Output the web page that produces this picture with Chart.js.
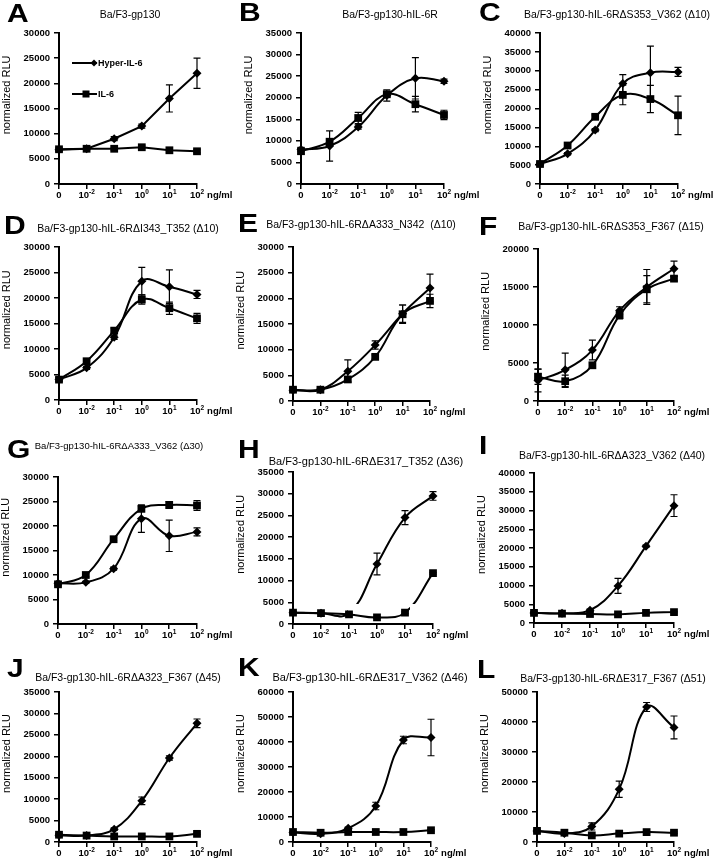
<!DOCTYPE html>
<html>
<head>
<meta charset="utf-8">
<script src="https://cdn.jsdelivr.net/npm/chart.js@4/dist/chart.umd.min.js"></script>
<style>
  html, body { margin: 0; padding: 0; background: #fff; }
  #fig { position: relative; width: 713px; height: 861px; overflow: hidden; }
  #fig canvas { position: absolute; }
</style>
</head>
<body>
<div id="fig"></div>
<script>
// x categories (ng/ml) and tick label pieces
const doseLabels = ['0', '10-2', '10-1', '100', '101', '102'];
const doseBase = ['0', '10', '10', '10', '10', '10'];
const doseExp = ['', '-2', '-1', '0', '1', '2'];
const seriesNames = ['Hyper-IL-6', 'IL-6'];

const letters = ['A', 'B', 'C', 'D', 'E', 'F', 'G', 'H', 'I', 'J', 'K', 'L'];
const titles = [
    'Ba/F3-gp130',
    'Ba/F3-gp130-hIL-6R',
    'Ba/F3-gp130-hIL-6R\u0394S353_V362 (\u039410)',
    'Ba/F3-gp130-hIL-6R\u0394I343_T352 (\u039410)',
    'Ba/F3-gp130-hIL-6R\u0394A333_N342  (\u039410)',
    'Ba/F3-gp130-hIL-6R\u0394S353_F367 (\u039415)',
    'Ba/F3-gp130-hIL-6R\u0394A333_V362 (\u039430)',
    'Ba/F3-gp130-hIL-6R\u0394E317_T352 (\u039436)',
    'Ba/F3-gp130-hIL-6R\u0394A323_V362 (\u039440)',
    'Ba/F3-gp130-hIL-6R\u0394A323_F367 (\u039445)',
    'Ba/F3-gp130-hIL-6R\u0394E317_V362 (\u039446)',
    'Ba/F3-gp130-hIL-6R\u0394E317_F367 (\u039451)'
];
const yMax = [30000, 35000, 40000, 30000, 30000, 20000, 30000, 35000, 40000, 35000, 60000, 50000];
const yStep = [5000, 5000, 5000, 5000, 5000, 5000, 5000, 5000, 5000, 5000, 10000, 10000];

// normalized RLU, mean and error, per panel
const hyperA = [6800, 7000, 9000, 11500, 17000, 22000];
const hyperErrA = [300, 200, 400, 400, 2700, 3000];
const il6A = [6900, 7000, 7000, 7300, 6700, 6500];
const il6ErrA = [300, 300, 300, 300, 300, 300];

const hyperB = [8000, 8800, 13200, 20500, 24500, 23800];
const hyperErrB = [500, 3500, 500, 1300, 4800, 500];
const il6B = [7600, 9800, 15300, 20800, 18500, 16000];
const il6ErrB = [600, 500, 1300, 600, 1800, 1100];

const hyperC = [5300, 8000, 14300, 26600, 29500, 29700];
const hyperErrC = [400, 300, 400, 2400, 7000, 1200];
const il6C = [5300, 10200, 17800, 23600, 22500, 18200];
const il6ErrC = [500, 400, 500, 2600, 3600, 5100];

const hyperD = [4000, 6300, 12300, 23300, 22200, 20700];
const hyperErrD = [300, 300, 400, 2700, 3300, 800];
const il6D = [4000, 7600, 13600, 19700, 18000, 16000];
const il6ErrD = [400, 400, 500, 900, 1200, 1000];

const hyperE = [2100, 2200, 5800, 10900, 17000, 22000];
const hyperErrE = [300, 200, 2200, 800, 1700, 2700];
const il6E = [2200, 2200, 4200, 8600, 16900, 19500];
const il6ErrE = [400, 200, 400, 400, 1800, 1300];

const hyperF = [2700, 4100, 6700, 11900, 15000, 17400];
const hyperErrF = [1500, 2200, 1300, 500, 2300, 1000];
const il6F = [3200, 2600, 4700, 11300, 14700, 16100];
const il6ErrF = [1000, 800, 300, 500, 1800, 300];

const hyperG = [8300, 8500, 11300, 21500, 18000, 18800];
const hyperErrG = [300, 200, 300, 2800, 3200, 800];
const il6G = [8100, 10000, 17300, 23500, 24300, 24200];
const il6ErrG = [300, 400, 300, 500, 700, 1000];

const hyperH = [2600, 2500, 2400, 13800, 24500, 29500];
const hyperErrH = [0, 0, 0, 2500, 1600, 1000];
const il6H = [2600, 2500, 2200, 1500, 2600, 11700];
const il6ErrH = [300, 200, 300, 200, 200, 200];

const hyperI = [2700, 2600, 3400, 9900, 20500, 31300];
const hyperErrI = [300, 200, 300, 2000, 300, 2900];
const il6I = [2700, 2500, 2400, 2300, 2700, 2900];
const il6ErrI = [200, 200, 200, 200, 200, 200];

const hyperJ = [1600, 1500, 3000, 9600, 19600, 27700];
const hyperErrJ = [300, 200, 300, 900, 500, 1000];
const il6J = [1700, 1500, 1300, 1300, 1300, 1900];
const il6ErrJ = [200, 200, 200, 200, 200, 200];

const hyperK = [3800, 3300, 5500, 14400, 40800, 41800];
const hyperErrK = [300, 300, 500, 1500, 1500, 7300];
const il6K = [4000, 3700, 4000, 4000, 4000, 4700];
const il6ErrK = [300, 300, 300, 300, 300, 300];

const hyperL = [3700, 2800, 5200, 17600, 45000, 38200];
const hyperErrL = [300, 300, 1200, 2700, 1500, 3800];
const il6L = [3700, 3100, 2200, 2800, 3300, 3100];
const il6ErrL = [300, 300, 300, 300, 300, 300];

const hyperAll = [hyperA, hyperB, hyperC, hyperD, hyperE, hyperF, hyperG, hyperH, hyperI, hyperJ, hyperK, hyperL];
const hyperErrAll = [hyperErrA, hyperErrB, hyperErrC, hyperErrD, hyperErrE, hyperErrF, hyperErrG, hyperErrH, hyperErrI, hyperErrJ, hyperErrK, hyperErrL];
const il6All = [il6A, il6B, il6C, il6D, il6E, il6F, il6G, il6H, il6I, il6J, il6K, il6L];
const il6ErrAll = [il6ErrA, il6ErrB, il6ErrC, il6ErrD, il6ErrE, il6ErrF, il6ErrG, il6ErrH, il6ErrI, il6ErrJ, il6ErrK, il6ErrL];

// page layout: plot box [left, top, right, bottom], title centre + size, letter left/middle
const boxes = [
    [59, 33, 197, 184], [301, 33, 444, 184], [540, 33, 678, 184],
    [59, 247, 197, 400], [293, 247, 430, 401], [538, 249, 674, 401],
    [58, 477, 197, 624], [293, 472, 433, 624], [534, 473, 674, 623],
    [59, 692, 197, 842], [293, 692, 431, 842], [537, 692, 674, 842]
];
const titlePos = [
    [130, 15], [390, 15], [617, 15],
    [128, 229], [361, 225], [611, 227],
    [119, 446], [366, 462], [612, 456],
    [128, 678], [370, 678], [613, 679]
];
const titleSize = [10.5, 10.5, 10.5, 10.5, 10.5, 10.5, 9.5, 11, 10.5, 10.5, 11, 10.5];
const letterPos = [
    [7, 14], [239, 13], [479, 13],
    [4, 226], [238, 224], [479, 227],
    [7, 450], [238, 450], [479, 446],
    [7, 669], [238, 668], [477, 670]
];

const FONT = "'Liberation Sans', Arial, Helvetica, sans-serif";
const PAD_L = 65, PAD_T = 40, PAD_R = 40, PAD_B = 25;

Chart.defaults.font.family = FONT;
Chart.defaults.color = '#000';

// H: parts of the fitted curves that are not drawn in the original
const hiddenParts = {
    7: [
        { ds: 0, from: 2, to: 3, dxFrom: -1, dxTo: -6, below: 4600 },
        { ds: 1, from: 4, to: 5, dxFrom: 5, dxTo: 2, below: 4600 }
    ]
};

function drawDiamond(ctx, x, y, r) {
    ctx.beginPath();
    ctx.moveTo(x, y - r);
    ctx.lineTo(x + r, y);
    ctx.lineTo(x, y + r);
    ctx.lineTo(x - r, y);
    ctx.closePath();
    ctx.fill();
}

function panelPlugin(i) {
    const [L, T] = boxes[i];
    const ox = L - PAD_L, oy = T - PAD_T;
    const masks = hiddenParts[i] || [];
    return {
        id: 'panel' + i,
        beforeDatasetDraw(chart, args) {
            const m = masks.filter(k => k.ds === args.index);
            if (!m.length) return;
            const ctx = chart.ctx, xs = chart.scales.x, ys = chart.scales.y;
            ctx.save();
            ctx.beginPath();
            ctx.rect(0, 0, chart.width, chart.height);
            m.forEach(k => {
                const x0 = xs.getPixelForValue(k.from) + k.dxFrom;
                const x1 = xs.getPixelForValue(k.to) + k.dxTo;
                const y0 = ys.getPixelForValue(k.below);
                ctx.rect(x0, y0, x1 - x0, chart.height - y0);
            });
            ctx.clip('evenodd');
        },
        afterDatasetDraw(chart, args) {
            if (masks.some(k => k.ds === args.index)) chart.ctx.restore();
        },
        afterDatasetsDraw(chart) {
            // error bars
            const ctx = chart.ctx, ys = chart.scales.y;
            ctx.save();
            ctx.strokeStyle = '#000';
            ctx.lineWidth = 1.2;
            chart.data.datasets.forEach((ds, d) => {
                const meta = chart.getDatasetMeta(d);
                ds.data.forEach((v, j) => {
                    const e = ds.err[j];
                    if (!e) return;
                    const x = meta.data[j].x;
                    const yt = ys.getPixelForValue(v + e);
                    const yb = ys.getPixelForValue(Math.max(v - e, 0));
                    ctx.beginPath();
                    ctx.moveTo(x, yt); ctx.lineTo(x, yb);
                    ctx.moveTo(x - 3.5, yt); ctx.lineTo(x + 3.5, yt);
                    ctx.moveTo(x - 3.5, yb); ctx.lineTo(x + 3.5, yb);
                    ctx.stroke();
                });
            });
            ctx.restore();
        },
        afterDraw(chart) {
            const ctx = chart.ctx, area = chart.chartArea, xs = chart.scales.x;
            ctx.save();
            ctx.fillStyle = '#000';

            // x tick labels with superscript exponents
            const base = 'bold 9.5px ' + FONT, small = 'bold 6.5px ' + FONT;
            const yb = area.bottom + 14;
            ctx.textAlign = 'left';
            ctx.textBaseline = 'alphabetic';
            let lastRight = 0;
            doseBase.forEach((b, j) => {
                const x = xs.getPixelForValue(j);
                ctx.font = base;
                const wb = ctx.measureText(b).width;
                ctx.font = small;
                const we = doseExp[j] ? ctx.measureText(doseExp[j]).width : 0;
                const x0 = x - (wb + we) / 2;
                ctx.font = base;
                ctx.fillText(b, x0, yb);
                if (doseExp[j]) {
                    ctx.font = small;
                    ctx.fillText(doseExp[j], x0 + wb, yb - 4.5);
                }
                lastRight = x0 + wb + we;
            });
            ctx.font = base;
            ctx.fillText('ng/ml', lastRight + 3, yb);

            // y axis title
            ctx.save();
            ctx.translate(area.left - 52, area.top + 0.41 * (area.bottom - area.top));
            ctx.rotate(-Math.PI / 2);
            ctx.textAlign = 'center';
            ctx.textBaseline = 'middle';
            ctx.font = '11px ' + FONT;
            ctx.fillText('normalized RLU', 0, 0);
            ctx.restore();

            // panel title and letter
            ctx.textAlign = 'center';
            ctx.textBaseline = 'middle';
            ctx.font = titleSize[i] + 'px ' + FONT;
            ctx.fillText(titles[i], titlePos[i][0] - ox, titlePos[i][1] - oy);

            ctx.save();
            ctx.translate(letterPos[i][0] - ox, letterPos[i][1] - oy);
            ctx.scale(1.2, 1);
            ctx.textAlign = 'left';
            ctx.font = 'bold 25px ' + FONT;
            ctx.fillText(letters[i], 0, 1);
            ctx.restore();

            // legend, first panel only
            if (i === 0) {
                ctx.strokeStyle = '#000';
                ctx.lineWidth = 2;
                ctx.font = 'bold 9px ' + FONT;
                ctx.textAlign = 'left';
                ctx.textBaseline = 'middle';
                const y1 = area.top + 30, y2 = area.top + 61;
                ctx.beginPath();
                ctx.moveTo(area.left + 13, y1); ctx.lineTo(area.left + 38, y1);
                ctx.moveTo(area.left + 13, y2); ctx.lineTo(area.left + 38, y2);
                ctx.stroke();
                drawDiamond(ctx, area.left + 35, y1, 3.5);
                ctx.fillRect(area.left + 23.5, y2 - 3.5, 7, 7);
                ctx.fillText(seriesNames[0], area.left + 39, y1 + 0.5);
                ctx.fillText(seriesNames[1], area.left + 39, y2 + 0.5);
            }
            ctx.restore();
        }
    };
}

const figure = document.getElementById('fig');

function makePanel(i) {
    const [L, T, R, B] = boxes[i];
    const w = R - L + PAD_L + PAD_R, h = B - T + PAD_T + PAD_B;
    const canvas = document.createElement('canvas');
    canvas.width = w;
    canvas.height = h;
    canvas.style.left = (L - PAD_L) + 'px';
    canvas.style.top = (T - PAD_T) + 'px';
    canvas.style.width = w + 'px';
    canvas.style.height = h + 'px';
    figure.appendChild(canvas);

    const axisGrid = { display: true, drawOnChartArea: false, drawTicks: true, tickLength: 5, color: '#000', lineWidth: 1.5 };
    const axisBorder = { display: true, color: '#000', width: 2 };
    const tension = i === 0 ? 0 : 0.4;

    new Chart(canvas, {
        type: 'line',
        data: {
            labels: doseLabels,
            datasets: [
                {
                    label: seriesNames[0],
                    data: hyperAll[i],
                    err: hyperErrAll[i],
                    borderColor: '#000',
                    backgroundColor: '#000',
                    borderWidth: 2,
                    tension: tension,
                    pointStyle: 'rectRot',
                    pointRadius: 4.5,
                    pointBorderWidth: 0,
                    clip: false
                },
                {
                    label: seriesNames[1],
                    data: il6All[i],
                    err: il6ErrAll[i],
                    borderColor: '#000',
                    backgroundColor: '#000',
                    borderWidth: 2,
                    tension: tension,
                    pointStyle: 'rect',
                    pointRadius: 5.5,
                    pointBorderWidth: 0,
                    clip: false
                }
            ]
        },
        options: {
            responsive: false,
            animation: false,
            devicePixelRatio: 1,
            events: [],
            layout: { padding: { left: 0, top: PAD_T, right: PAD_R, bottom: 0 } },
            scales: {
                x: {
                    type: 'category',
                    offset: false,
                    grid: axisGrid,
                    border: axisBorder,
                    ticks: { display: false },
                    afterFit: s => { s.height = PAD_B; }
                },
                y: {
                    min: 0,
                    max: yMax[i],
                    grid: axisGrid,
                    border: axisBorder,
                    ticks: {
                        stepSize: yStep[i],
                        padding: 4,
                        font: { size: 9.5, weight: 'bold' },
                        callback: v => String(v)
                    },
                    afterFit: s => { s.width = PAD_L; }
                }
            },
            plugins: {
                legend: { display: false },
                tooltip: { enabled: false },
                title: { display: false }
            }
        },
        plugins: [panelPlugin(i)]
    });
}

letters.forEach((_, i) => makePanel(i));
</script>
</body>
</html>
